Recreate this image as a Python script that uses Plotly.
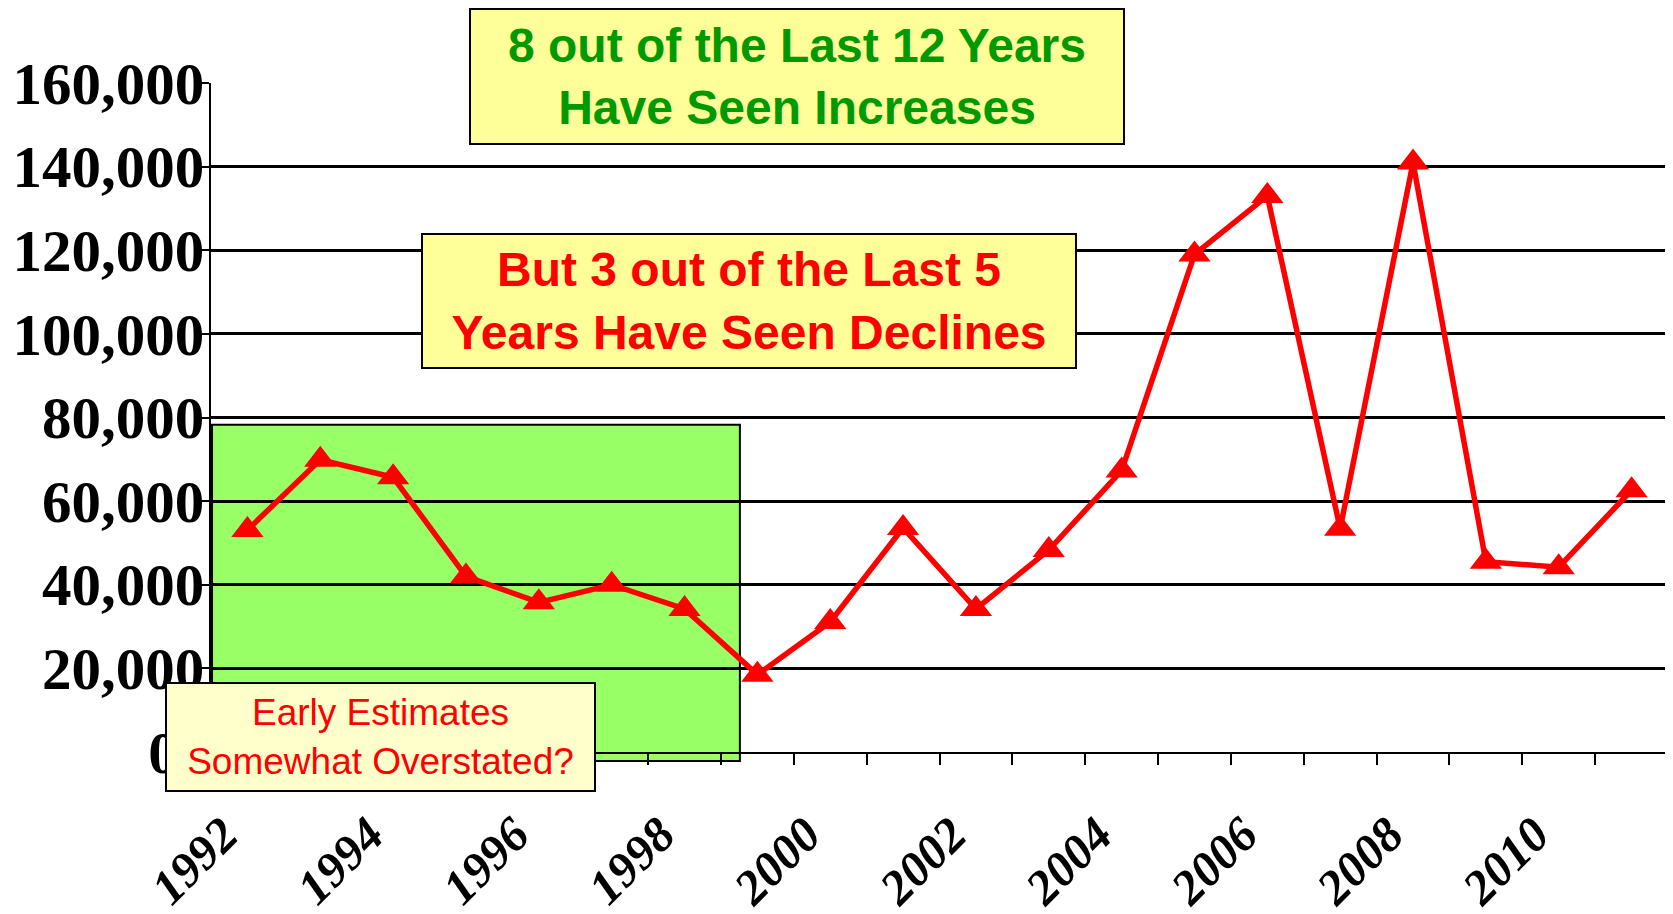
import plotly.graph_objects as go

# ---- data ----
years = [1992, 1993, 1994, 1995, 1996, 1997, 1998, 1999, 2000, 2001,
         2002, 2003, 2004, 2005, 2006, 2007, 2008, 2009, 2010, 2011]
values = [53100, 69900, 65700, 42000, 35800, 40000, 34200, 18500, 31100, 53600,
          34200, 48300, 67300, 119000, 133000, 53400, 141000, 45500, 44200, 62600]
label_years = [1992, 1994, 1996, 1998, 2000, 2002, 2004, 2006, 2008, 2010]
label_text = [str(y) for y in label_years]
y_ticks = [0, 20000, 40000, 60000, 80000, 100000, 120000, 140000, 160000]
y_tick_text = ["0\u00a0\u2009", "20,000", "40,000", "60,000", "80,000",
               "100,000", "120,000", "140,000", "160,000"]

boundaries = [y - 0.5 for y in years] + [years[-1] + 0.5]

fig = go.Figure()
fig.add_trace(go.Scatter(
    x=years, y=values, mode="lines+markers",
    line=dict(color="#FF0000", width=5.5),
    marker=dict(symbol="triangle-up", size=28, color="#FF0000"),
    showlegend=False, cliponaxis=False,
))

# the page body adds an 8px margin, so the figure is 8px smaller than the window
fig.update_layout(
    width=1665, height=906,
    margin=dict(l=203, r=5, t=75, b=162),
    paper_bgcolor="white", plot_bgcolor="rgba(0,0,0,0)",
    showlegend=False,
    xaxis=dict(
        range=[boundaries[0], boundaries[-1]], automargin=False,
        tickmode="array", tickvals=label_years, ticktext=label_text,
        ticks="", tickangle=-45,
        tickfont=dict(family="Liberation Serif", size=49, color="black",
                      weight="bold", style="italic"),
        ticklabelstandoff=32, ticklabelshift=-24,
        showline=True, linecolor="black", linewidth=2,
        showgrid=False, zeroline=False,
        minor=dict(tickmode="array", tickvals=boundaries, ticks="outside",
                   ticklen=11, tickwidth=2, tickcolor="black", showgrid=False),
    ),
    yaxis=dict(
        range=[0, 160000], automargin=False,
        tickmode="array", tickvals=y_ticks, ticktext=y_tick_text,
        ticks="outside", ticklen=14, tickwidth=2, tickcolor="black",
        tickfont=dict(family="Liberation Serif", size=59, color="black",
                      weight="bold"),
        ticklabelstandoff=-21,
        showline=True, linecolor="black", linewidth=2,
        showgrid=True, gridcolor="black", gridwidth=2.5,
        zeroline=False,
    ),
    shapes=[dict(
        type="rect", xref="paper", yref="paper",
        x0=0.0007, x1=0.363, y0=-0.0135, y1=0.489,
        fillcolor="#99FF66", line=dict(color="black", width=2), layer="below",
    )],
    annotations=[
        dict(xref="paper", yref="paper", x=0.402, y=1.009,
             xanchor="center", yanchor="middle", showarrow=False,
             text="8 out of the Last 12 Years<br>Have Seen Increases",
             font=dict(family="Liberation Sans", size=48, color="#009900", weight="bold"),
             bgcolor="#FFFF99", bordercolor="black", borderwidth=2, borderpad=0,
             width=652, height=133),
        dict(xref="paper", yref="paper", x=0.369, y=0.674,
             xanchor="center", yanchor="middle", showarrow=False,
             text="But 3 out of the Last 5<br>Years Have Seen Declines",
             font=dict(family="Liberation Sans", size=48, color="#FF0000", weight="bold"),
             bgcolor="#FFFF99", bordercolor="black", borderwidth=2, borderpad=0,
             width=652, height=132),
        dict(xref="paper", yref="paper", x=0.1163, y=0.0224,
             xanchor="center", yanchor="middle", showarrow=False,
             text="Early Estimates<br>Somewhat Overstated?",
             font=dict(family="Liberation Sans", size=37, color="#FF0000"),
             bgcolor="#FFFFCC", bordercolor="black", borderwidth=2, borderpad=0,
             width=427, height=106),
    ],
)

fig.write_html("out.html")
